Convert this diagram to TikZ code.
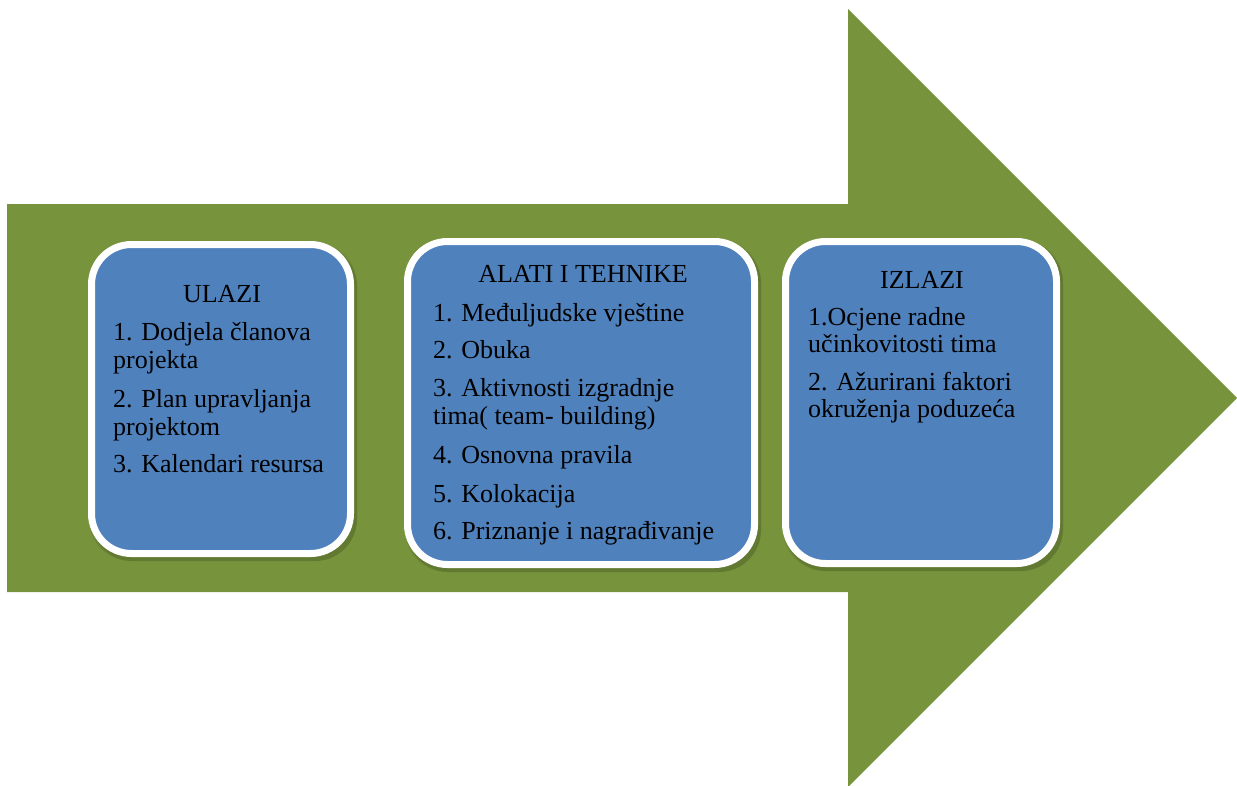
\documentclass[tikz,border=0pt]{standalone}
\usepackage{fontspec}
\setmainfont{Liberation Serif}
\begin{document}
\begin{tikzpicture}[x=1pt,y=-1pt,
  panel/.style={draw=white, line width=7pt, fill=boxblue, rounded corners=40pt, inner sep=0pt},
  shade/.style={fill=black, opacity=0.09, rounded corners=42pt, inner sep=0pt},
  ttl/.style={anchor=base, font=\fontsize{26}{28}\selectfont, inner sep=0pt},
  itm/.style={anchor=base west, font=\fontsize{26}{28}\selectfont, align=left, inner sep=0pt}]
\definecolor{arrowgreen}{HTML}{77933C}
\definecolor{boxblue}{HTML}{4F81BD}
\useasboundingbox (0,0) rectangle (1237,785);
\clip (0,0) rectangle (1237,785);
% big arrow
\fill[arrowgreen] (7,204) -- (848,204) -- (848,9) -- (1237,398) -- (848,787) -- (848,592) -- (7,592) -- cycle;
% soft shadows
\node[shade, minimum width=268pt, minimum height=318pt] (s1a) at (223,402) {};
\node[shade, minimum width=266pt, minimum height=316pt] (s1b) at (224,403) {};
\node[shade, minimum width=356pt, minimum height=332pt] (s2a) at (583,406) {};
\node[shade, minimum width=354pt, minimum height=330pt] (s2b) at (584,407) {};
\node[shade, minimum width=280pt, minimum height=331pt] (s3a) at (923,405.5) {};
\node[shade, minimum width=278pt, minimum height=329pt] (s3b) at (924,406.5) {};
% panels
\node[panel, minimum width=259pt, minimum height=309pt] (b1) at (221,399) {};
\node[panel, minimum width=347pt, minimum height=323pt] (b2) at (581,403) {};
\node[panel, minimum width=271pt, minimum height=322pt] (b3) at (921,402.5) {};
% box 1
\node[ttl] (t1) at (222,302) {ULAZI};
\node[itm] (a1) at (113,368) {1. Dodjela članova\\projekta};
\node[itm] (a2) at (113,435) {2. Plan upravljanja\\projektom};
\node[itm] (a3) at (113,472) {3. Kalendari resursa};
% box 2
\node[ttl] (t2) at (583,282) {ALATI I TEHNIKE};
\node[itm] (c1) at (433,321) {1. Međuljudske vještine};
\node[itm] (c2) at (433,358) {2. Obuka};
\node[itm] (c3) at (433,424) {3. Aktivnosti izgradnje\\tima( team- building)};
\node[itm] (c4) at (433,463) {4. Osnovna pravila};
\node[itm] (c5) at (433,502) {5. Kolokacija};
\node[itm] (c6) at (433,539) {6. Priznanje i nagrađivanje};
% box 3
\node[ttl] (t3) at (922,288) {IZLAZI};
\node[itm, font=\fontsize{26}{27}\selectfont] (d1) at (808,352) {1.Ocjene radne\\učinkovitosti tima};
\node[itm, font=\fontsize{26}{27}\selectfont] (d2) at (808,417) {2. Ažurirani faktori\\okruženja poduzeća};
\end{tikzpicture}
\end{document}
